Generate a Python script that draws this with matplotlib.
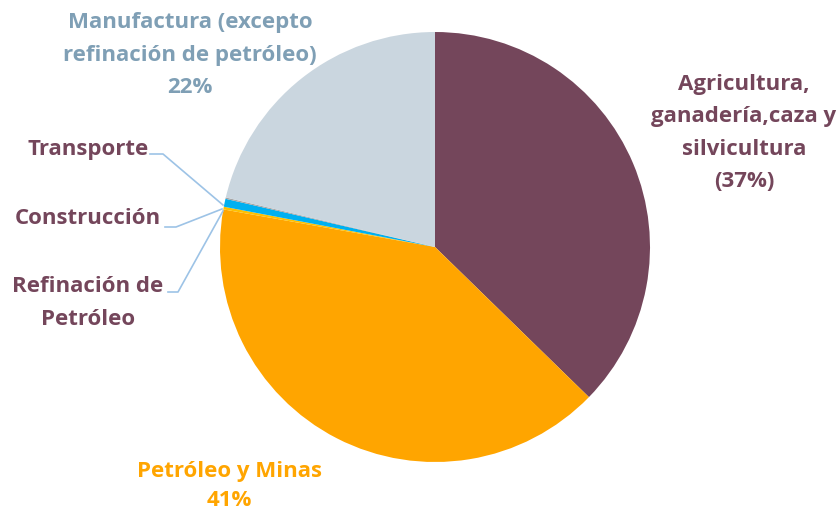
import matplotlib.pyplot as plt

# sector shares (%), clockwise from 12 o'clock
sectors = ["Agricultura", "Petróleo y Minas", "Refinación de Petróleo",
           "Construcción", "Transporte", "Manufactura"]
shares = [37.3, 40.5, 0.2, 0.6, 0.1, 21.3]
colors = ["#74465B", "#FFA500", "#FFC000", "#00B0F0", "#A5A5A5", "#CAD6DF"]

plt.rcParams['font.family'] = ['Open Sans', 'DejaVu Sans']

fig = plt.figure(figsize=(8.38, 5.10), dpi=100)
ax = fig.add_axes([0, 0, 1, 1])

cx, cy, r = 435, 262, 215
ax.pie(shares, colors=colors, startangle=90, counterclock=False,
       center=(cx, cy), radius=r, wedgeprops=dict(linewidth=0))

ax.set_xlim(0, 838)
ax.set_ylim(0, 510)
ax.set_aspect('equal')
ax.axis('off')

purple = "#74465B"
fs = 16
ls = 1.7

ax.text(190, 455, "Manufactura (excepto\nrefinación de petróleo)\n22%",
        ha='center', va='center', fontsize=fs, fontweight='bold',
        color="#7F9FB5", linespacing=ls)
ax.text(744, 377, "Agricultura,\nganadería,caza y\nsilvicultura\n(37%)",
        ha='center', va='center', fontsize=fs, fontweight='bold',
        color=purple, linespacing=ls)
ax.text(229, 24, "Petróleo y Minas\n41%",
        ha='center', va='center', fontsize=fs, fontweight='bold',
        color="#FFA500", linespacing=1.5)
ax.text(88, 360, "Transporte", ha='center', va='center', fontsize=fs,
        fontweight='bold', color=purple)
ax.text(88, 292, "Construcción", ha='center', va='center', fontsize=fs,
        fontweight='bold', color=purple)
ax.text(88, 207, "Refinación de\nPetróleo", ha='center', va='center',
        fontsize=fs, fontweight='bold', color=purple, linespacing=ls)

# leader lines
lc = "#9DC3E6"
ax.plot([150, 163, 223], [355, 355, 304], color=lc, lw=1.2)
ax.plot([165, 176, 222], [282, 282, 300], color=lc, lw=1.2)
ax.plot([168, 178, 223], [217, 217, 298], color=lc, lw=1.2)

fig.savefig("out.png", dpi=100)
